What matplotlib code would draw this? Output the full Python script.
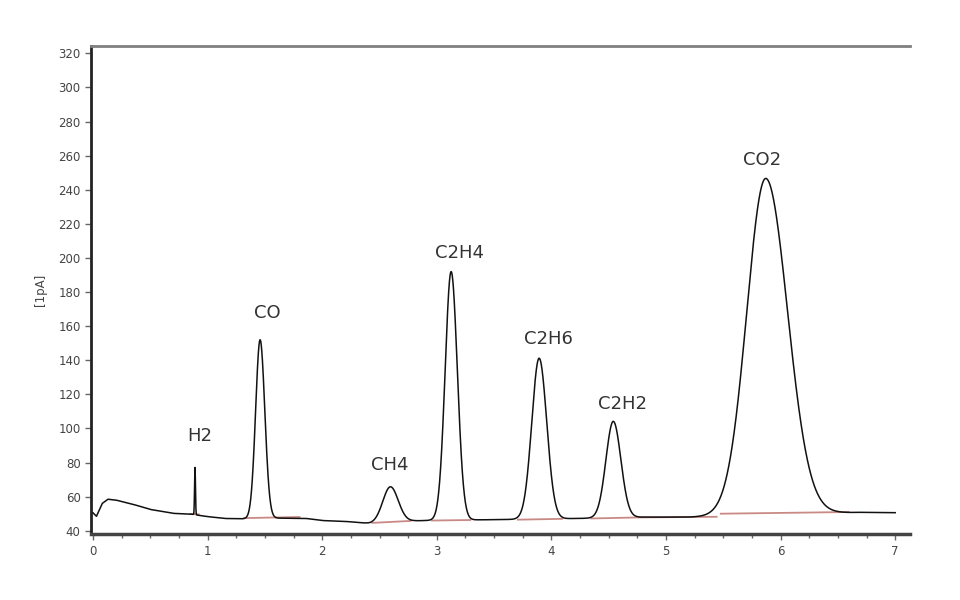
import numpy as np
import matplotlib
matplotlib.use("Agg")
import matplotlib.pyplot as plt
from matplotlib.ticker import MultipleLocator

# --- baseline drift of the detector signal ---
base_x = [0.0, 0.03, 0.08, 0.13, 0.2, 0.35, 0.5, 0.7, 0.85, 1.0, 1.15, 1.3, 1.6, 1.85,
          2.0, 2.2, 2.32, 2.42, 2.8, 3.0, 3.5, 4.0, 4.5, 4.8, 5.2, 5.5, 6.0, 6.5, 6.7, 7.0]
base_y = [50.5, 48.5, 56.0, 58.5, 58.0, 55.5, 52.5, 50.2, 49.8, 48.3, 47.2, 47.0, 47.4, 47.3,
          46.0, 45.5, 44.8, 44.3, 45.8, 46.2, 46.5, 47.0, 47.5, 48.0, 48.0, 48.5, 49.5, 50.5, 50.8, 50.6]

# --- peaks: name, retention time [min], height above baseline, widths (left/right) ---
peak_names = ["H2", "CO", "CH4", "C2H4", "C2H6", "C2H2", "CO2"]
peak_rt = [0.89, 1.458, 2.595, 3.125, 3.893, 4.54, 5.87]
peak_height = [27.7, 104.8, 20.8, 145.7, 94.3, 56.6, 197.4]
peak_sig_left = [0.004, 0.039, 0.066, 0.052, 0.064, 0.064, 0.165]
peak_sig_right = [0.004, 0.041, 0.068, 0.054, 0.066, 0.066, 0.19]

# label positions (data coords)
label_x = [0.934, 1.52, 2.59, 3.20, 3.97, 4.62, 5.84]
label_y = [95.5, 168.0, 78.5, 203.0, 152.5, 114.5, 257.5]

# integration baselines (red segments): x0, y0, x1, y1
seg_x0 = [0.84, 1.31, 2.43, 2.95, 3.70, 4.34, 4.75, 5.47]
seg_y0 = [49.9, 47.4, 44.6, 46.0, 46.5, 47.2, 47.8, 50.0]
seg_x1 = [0.93, 1.81, 2.78, 3.30, 4.10, 4.75, 5.45, 6.60]
seg_y1 = [49.6, 48.1, 45.8, 46.3, 47.0, 47.8, 48.2, 51.0]

x = np.linspace(0.0, 7.0, 14001)
signal = np.interp(x, base_x, base_y)
for rt, h, sl, sr in zip(peak_rt, peak_height, peak_sig_left, peak_sig_right):
    s = np.where(x < rt, sl, sr)
    signal = signal + h * np.exp(-0.5 * ((x - rt) / s) ** 2)

fig = plt.figure(figsize=(9.6, 6.0), dpi=100)
ax = fig.add_axes([0.0948, 0.11, 0.8532, 0.8133])

for a, b, c, d in zip(seg_x0, seg_y0, seg_x1, seg_y1):
    ax.plot([a, c], [b, d], color="#c98a86", lw=1.3, zorder=2, solid_capstyle="butt")

ax.plot(x, signal, color="#111111", lw=1.1, zorder=3)

for name, lx, ly in zip(peak_names, label_x, label_y):
    ax.text(lx, ly, name, ha="center", va="center", fontsize=13,
            color="#333333", family="DejaVu Sans")

ax.set_xlim(-0.0175, 7.13)
ax.set_ylim(38.1, 324.3)
ax.xaxis.set_major_locator(MultipleLocator(1))
ax.xaxis.set_minor_locator(MultipleLocator(0.25))
ax.yaxis.set_major_locator(MultipleLocator(20))

ax.spines["right"].set_visible(False)
ax.spines["top"].set_color("#808080")
ax.spines["top"].set_linewidth(2.0)
ax.spines["left"].set_color("#222222")
ax.spines["left"].set_linewidth(2.0)
ax.spines["bottom"].set_color("#444444")
ax.spines["bottom"].set_linewidth(2.5)

ax.tick_params(axis="both", which="major", labelsize=8.5, labelcolor="#444444",
               color="#666666", length=4, width=1)
ax.tick_params(axis="x", which="minor", color="#666666", length=3, width=1)
ax.tick_params(axis="x", which="major", pad=4)

ax.set_ylabel("[1pA]", fontsize=8.5, color="#444444", labelpad=8)

fig.savefig("out.png", dpi=100, facecolor="white")
